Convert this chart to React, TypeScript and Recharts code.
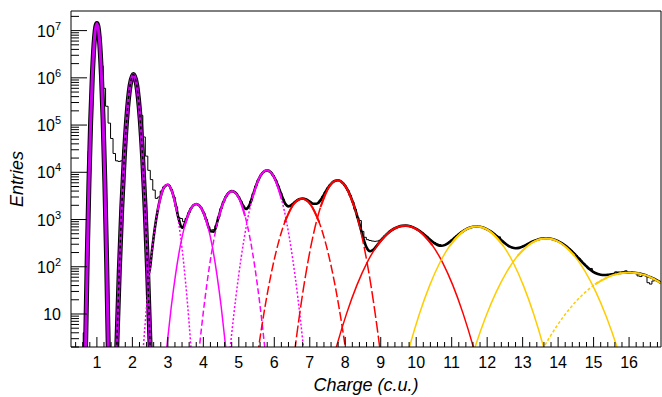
import React from 'react';
import { ComposedChart, Line, XAxis, YAxis, ReferenceLine, Label } from 'recharts';

const FONT = "'Liberation Sans', Arial, Helvetica, sans-serif";
const MAGENTA = '#ff00ff';
const PURPLE = '#cc00ee';
const RED = '#ff0000';
const GOLD = '#ffcc00';

// histogram, bins 0.07 wide, first bin centred at 0.58
const binStart = 0.58;
const binWidth = 0.07;
const histCounts = [
  0.5, 4, 230, 28000, 800000, 6800000, 13300000, 7500000, 1800000, 600000,
  250000, 110000, 52000, 25000, 17500, 17000, 17500, 30000, 145000, 500000,
  1000000, 1130000, 740000, 350000, 160000, 56000, 22000, 11000, 7000, 4200,
  2800, 3000, 4000, 4900, 5450, 5300, 4300, 3000, 1850, 1100,
  1050, 900, 1050, 1380, 1760, 2040, 2140, 2040, 1760, 1380,
  1000, 700, 600, 610, 740, 1130, 1700, 2380, 3070, 3640,
  3950, 3930, 3600, 3040, 2420, 1910, 1700, 1820, 2440, 3550,
  5100, 6900, 8690, 10100, 10900, 10850, 10000, 8540, 6790, 5090,
  3670, 2670, 2110, 1910, 1960, 2160, 2410, 2620, 2750, 2780,
  2690, 2520, 2330, 2170, 2110, 2220, 2540, 3090, 3820, 4660,
  5500, 6200, 6660, 6780, 6530, 5950, 5130, 4190, 3230, 2360,
  1640, 1100, 950, 560, 420, 375, 360, 350, 345, 350,
  365, 400, 450, 505, 560, 610, 650, 690, 720, 735,
  745, 755, 735, 695, 660, 617, 570, 520, 471, 424,
  379, 342, 325, 305, 295, 279, 287, 305, 333, 368,
  409, 455, 502, 549, 594, 634, 667, 692, 707, 725,
  704, 687, 661, 627, 585, 541, 493, 446, 430, 359,
  323, 294, 271, 256, 248, 247, 251, 262, 276, 294,
  313, 333, 352, 369, 384, 394, 400, 402, 398, 391,
  378, 361, 341, 320, 295, 270, 244, 218, 194, 172,
  151, 133, 117, 104, 92, 92, 77, 73, 70, 68,
  67, 67, 68, 69, 70.5, 78, 77, 74.4, 75, 82,
  79, 75.8, 75.2, 74.2, 64, 62, 68.6, 66, 46, 43,
  50, 53.2, 49.6, 46,
];

// total fit (from x = 2.2 on; below that peaks 1 and 2 carry it)
const fitTotal = [
  [2.2, 207000], [2.25, 64000], [2.3, 14700], [2.35, 2485], [2.4, 327], [2.45, 68],
  [2.5, 96], [2.55, 211], [2.6, 430], [2.65, 805], [2.7, 1378], [2.75, 2160],
  [2.8, 3100], [2.9, 4910], [3.0, 5460], [3.1, 4280], [3.2, 2400], [3.3, 1073],
  [3.4, 668], [3.5, 907], [3.6, 1432], [3.7, 1932], [3.8, 2138], [3.9, 1934],
  [4.0, 1437], [4.1, 903], [4.2, 564], [4.3, 555], [4.4, 937], [4.5, 1695],
  [4.6, 2683], [4.7, 3571], [4.8, 3985], [4.9, 3718], [5.0, 2950], [5.1, 2100],
  [5.2, 1667], [5.3, 2024], [5.4, 3365], [5.5, 5595], [5.6, 8200], [5.7, 10280],
  [5.8, 10990], [5.9, 10000], [6.0, 7810], [6.1, 5320], [6.2, 3340], [6.3, 2229],
  [6.4, 1901], [6.5, 2067], [6.6, 2408], [6.7, 2691], [6.8, 2784], [6.9, 2650],
  [7.0, 2384], [7.1, 2151], [7.2, 2150], [7.3, 2544], [7.4, 3377], [7.5, 4534],
  [7.6, 5715], [7.7, 6561], [7.8, 6765], [7.9, 6234], [8.0, 5132], [8.1, 3770],
  [8.2, 2480], [8.3, 1468], [8.4, 799], [8.5, 425], [8.6, 258], [8.7, 213],
  [8.8, 232], [8.9, 286], [9.0, 355], [9.1, 433], [9.2, 513], [9.3, 589],
  [9.4, 654], [9.5, 704], [9.6, 734], [9.7, 742], [9.8, 726], [9.9, 690],
  [10.0, 636], [10.1, 570], [10.2, 499], [10.3, 430], [10.4, 368], [10.5, 320],
  [10.6, 289], [10.7, 278], [10.8, 287], [10.9, 316], [11.0, 362], [11.1, 422],
  [11.2, 488], [11.3, 555], [11.4, 618], [11.5, 667], [11.6, 700], [11.7, 712],
  [11.8, 701], [11.9, 670], [12.0, 621], [12.1, 560], [12.2, 493], [12.3, 426],
  [12.4, 365], [12.5, 314], [12.6, 277], [12.7, 255], [12.8, 247], [12.9, 251],
  [13.0, 268], [13.1, 291], [13.2, 319], [13.3, 346], [13.4, 371], [13.5, 390],
  [13.6, 400], [13.7, 401], [13.8, 392], [13.9, 374], [14.0, 348], [14.1, 316],
  [14.2, 281], [14.3, 244], [14.4, 208], [14.5, 174], [14.6, 146], [14.7, 121],
  [14.8, 102], [14.9, 87], [15.0, 77], [15.1, 71], [15.2, 68], [15.3, 67],
  [15.4, 67.6], [15.5, 69.3], [15.6, 71.3], [15.7, 73.3], [15.8, 75], [15.9, 75.9],
  [16.0, 75.9], [16.1, 75.4], [16.2, 74], [16.3, 71.7], [16.4, 68.6], [16.5, 64.8],
  [16.6, 60.4], [16.7, 55.7], [16.8, 50.7], [16.9, 45.5],
];

// single photo-electron peaks
const peak1 = [
  [0.648, 0.073], [0.68, 2], [0.728, 159], [0.776, 6200], [0.824, 120000], [0.872, 1130000],
  [0.936, 7500000], [1.0, 14100000], [1.064, 7500000], [1.128, 1130000], [1.176, 120000],
  [1.224, 6200], [1.272, 159], [1.32, 2], [1.352, 0.073],
];
const peak2 = [
  [1.513, 0.12], [1.56, 2], [1.6305, 80], [1.7005, 1750], [1.7715, 21000], [1.842, 140000],
  [1.936, 690000], [2.03, 1170000], [2.124, 690000], [2.218, 140000], [2.2885, 21000],
  [2.359, 1750], [2.4295, 80], [2.5, 2], [2.547, 0.12],
];
const peak3 = [
  [2.243, 0.38], [2.31, 2], [2.4105, 18], [2.511, 113], [2.6115, 500], [2.712, 1550],
  [2.846, 4000], [2.98, 5500], [3.114, 4000], [3.248, 1550], [3.3485, 500], [3.449, 113],
  [3.5495, 18], [3.65, 2], [3.717, 0.38],
];
const peak4 = [
  [2.887, 0.46], [2.97, 2], [3.0945, 13.9], [3.219, 70], [3.3435, 259], [3.468, 700],
  [3.634, 1620], [3.8, 2140], [3.966, 1620], [4.132, 700], [4.2565, 259], [4.381, 70],
  [4.5055, 13.9], [4.63, 2], [4.713, 0.46],
];
const peak5 = [
  [3.798, 0.41], [3.89, 2], [4.028, 16.4], [4.166, 96], [4.304, 400], [4.442, 1180],
  [4.626, 2940], [4.81, 3980], [4.994, 2940], [5.178, 1180], [5.316, 400], [5.454, 96],
  [5.592, 16.4], [5.73, 2], [5.822, 0.41],
];
const peak6 = [
  [4.657, 0.33], [4.76, 2], [4.9145, 21.8], [5.069, 161], [5.2235, 811], [5.378, 2770],
  [5.584, 7800], [5.79, 11000], [5.996, 7800], [6.202, 2770], [6.3565, 811], [6.511, 161],
  [6.6655, 21.8], [6.82, 2], [6.923, 0.33],
];
const peak7 = [
  [5.438, 0.44], [5.56, 2], [5.743, 14.9], [5.926, 80], [6.109, 309], [6.292, 867],
  [6.536, 2060], [6.78, 2750], [7.024, 2060], [7.268, 867], [7.451, 309], [7.634, 80],
  [7.817, 14.9], [8.0, 2], [8.122, 0.44],
];
const peak8 = [
  [6.471, 0.36], [6.59, 2], [6.7685, 19], [6.947, 126], [7.1255, 578], [7.304, 1840],
  [7.542, 4890], [7.78, 6760], [8.018, 4890], [8.256, 1840], [8.4345, 578], [8.613, 126],
  [8.7915, 19], [8.97, 2], [9.089, 0.36],
];
const peak9 = [
  [7.557, 0.58], [7.75, 2], [8.0395, 10.3], [8.329, 40.8], [8.6185, 124], [8.908, 288],
  [9.294, 585], [9.68, 741], [10.066, 585], [10.452, 288], [10.7415, 124], [11.031, 40.8],
  [11.3205, 10.3], [11.61, 2], [11.803, 0.58],
];
const peak10 = [
  [9.621, 0.58], [9.81, 2], [10.0935, 10.2], [10.377, 39.9], [10.6605, 120], [10.944, 277],
  [11.322, 560], [11.7, 708], [12.078, 560], [12.456, 277], [12.7395, 120], [13.023, 39.9],
  [13.3065, 10.2], [13.59, 2], [13.779, 0.58],
];
const peak11 = [
  [11.46, 0.66], [11.66, 2], [11.96, 8.7], [12.26, 29.7], [12.56, 80], [12.86, 171],
  [13.26, 322], [13.66, 398], [14.06, 322], [14.46, 171], [14.76, 80], [15.06, 29.7],
  [15.36, 8.7], [15.66, 2], [15.86, 0.66],
];
const peak12 = [
  [13.36, 0.93], [13.6, 2], [13.96, 5.5], [14.32, 12.8], [14.68, 25.2], [15.04, 42.4],
  [15.52, 65.6], [16.0, 75.9], [16.48, 65.6], [16.96, 42.4],
];

const xMin = 0.27;
const xMax = 16.9;
const yMin = 2;
const yMax = 2.6e7;

const majorCharge = [1, 2, 3, 4, 5, 6, 7, 8, 9, 10, 11, 12, 13, 14, 15, 16];
const chargeTicks: number[] = [];
for (let k = 2; k <= 84; k++) chargeTicks.push(Math.round(k * 2) / 10);

const majorEntries = [10, 100, 1e3, 1e4, 1e5, 1e6, 1e7];
const entriesTicks: number[] = [];
for (let e = 0; e <= 7; e++) {
  for (let m = 1; m <= 9; m++) {
    const v = m * Math.pow(10, e);
    if (v >= yMin && v <= yMax) entriesTicks.push(v);
  }
}

const pts = (arr: number[][]) => arr.map(([x, y]) => ({ x, y }));

const histData = histCounts.map((y, i) => ({ x: +(binStart + i * binWidth).toFixed(3), y }));

const components = [
  { key: 'p3', data: peak3, color: MAGENTA, dash: '2 2', core: [5, 10] },
  { key: 'p4', data: peak4, color: MAGENTA, dash: undefined, core: [5, 10] },
  { key: 'p5', data: peak5, color: MAGENTA, dash: '6 3', core: [5, 10] },
  { key: 'p6', data: peak6, color: MAGENTA, dash: '2 2', core: [5, 10] },
  { key: 'p7', data: peak7, color: RED, dash: '9 3', core: [5, 10] },
  { key: 'p8', data: peak8, color: RED, dash: '12 3', core: [5, 10] },
  { key: 'p9', data: peak9, color: RED, dash: undefined, core: [5, 10] },
  { key: 'p10', data: peak10, color: GOLD, dash: undefined, core: [5, 10] },
  { key: 'p11', data: peak11, color: GOLD, dash: undefined, core: [5, 10] },
  { key: 'p12', data: peak12, color: GOLD, dash: '3 2', core: [5, 10] },
];

const ChargeTick = (props: any) => {
  const { x, y, payload } = props;
  const v = payload.value as number;
  const major = majorCharge.includes(v);
  return (
    <g>
      <line x1={x} x2={x} y1={y} y2={y - (major ? 10 : 5)} stroke="#000" strokeWidth={1} />
      {major && (
        <text x={x} y={y + 21} textAnchor="middle" fontSize={16} fontFamily={FONT} fill="#000">
          {v}
        </text>
      )}
    </g>
  );
};

const EntriesTick = (props: any) => {
  const { x, y, payload } = props;
  const v = payload.value as number;
  const major = majorEntries.includes(v);
  const exp = Math.round(Math.log10(v));
  return (
    <g>
      <line x1={x} x2={x + (major ? 16 : 8)} y1={y} y2={y} stroke="#000" strokeWidth={1} />
      {major && (
        <text x={x - 10} y={y + 6} textAnchor="end" fontSize={16} fontFamily={FONT} fill="#000">
          10
          {exp > 1 && (
            <tspan dy={-7} fontSize={11}>
              {exp}
            </tspan>
          )}
        </text>
      )}
    </g>
  );
};

const ChargeTitle = (props: any) => {
  const vb = props.viewBox || { x: 71, y: 347, width: 590, height: 50 };
  return (
    <text x={vb.x + vb.width / 2} y={vb.y + 44} textAnchor="middle" fontSize={18}
      fontStyle="italic" fontFamily={FONT} fill="#000">
      Charge (c.u.)
    </text>
  );
};

const EntriesTitle = (props: any) => {
  const vb = props.viewBox || { x: 0, y: 11, width: 71, height: 336 };
  const cx = vb.x + 23;
  const cy = vb.y + vb.height / 2;
  return (
    <text x={cx} y={cy} textAnchor="middle" fontSize={18} fontStyle="italic" fontFamily={FONT}
      fill="#000" transform={`rotate(-90, ${cx}, ${cy})`}>
      Entries
    </text>
  );
};

export default function App() {
  return (
    <div style={{ position: 'absolute', left: 0, top: 0, width: 662, height: 397, background: '#fff' }}>
      <ComposedChart width={662} height={397} margin={{ top: 11, right: 1, bottom: 0, left: 0 }}>
        <XAxis
          type="number"
          dataKey="x"
          domain={[xMin, xMax]}
          allowDataOverflow
          ticks={chargeTicks}
          interval={0}
          tick={<ChargeTick />}
          tickLine={false}
          tickSize={0}
          tickMargin={0}
          height={50}
          axisLine={{ stroke: '#000' }}
        >
          <Label content={(p: any) => <ChargeTitle {...p} />} />
        </XAxis>
        <YAxis
          type="number"
          dataKey="y"
          scale="log"
          domain={[yMin, yMax]}
          allowDataOverflow
          ticks={entriesTicks}
          interval={0}
          tick={<EntriesTick />}
          tickLine={false}
          tickSize={0}
          tickMargin={0}
          width={71}
          axisLine={{ stroke: '#000' }}
        >
          <Label content={(p: any) => <EntriesTitle {...p} />} />
        </YAxis>

        <Line data={histData} dataKey="y" type="step" stroke="#000" strokeWidth={1}
          dot={false} isAnimationActive={false} name="hist" />

        <Line data={pts(peak1)} dataKey="y" type="monotone" stroke="#000" strokeWidth={5}
          dot={false} isAnimationActive={false} name="p1-under" />
        <Line data={pts(peak2)} dataKey="y" type="monotone" stroke="#000" strokeWidth={5}
          dot={false} isAnimationActive={false} name="p2-under" />
        <Line data={pts(fitTotal)} dataKey="y" type="monotone" stroke="#000" strokeWidth={2.6}
          dot={false} isAnimationActive={false} name="total" />

        {components.map((c) => (
          <Line key={c.key} data={pts(c.data)} dataKey="y" type="monotone" stroke={c.color}
            strokeWidth={1.5} strokeDasharray={c.dash} dot={false} isAnimationActive={false}
            name={c.key} />
        ))}
        {components.map((c) => (
          <Line key={c.key + '-core'} data={pts(c.data.slice(c.core[0], c.core[1]))} dataKey="y"
            type="monotone" stroke={c.color} strokeWidth={2} dot={false}
            isAnimationActive={false} name={c.key + '-core'} />
        ))}

        <Line data={pts(peak1)} dataKey="y" type="monotone" stroke={PURPLE} strokeWidth={3}
          dot={false} isAnimationActive={false} name="p1" />
        <Line data={pts(peak2)} dataKey="y" type="monotone" stroke={PURPLE} strokeWidth={3}
          dot={false} isAnimationActive={false} name="p2" />
        <Line data={pts(peak2)} dataKey="y" type="monotone" stroke="#000" strokeWidth={1.5}
          strokeDasharray="3 3" dot={false} isAnimationActive={false} name="p2-dash" />

        <ReferenceLine y={yMax} stroke="#000" ifOverflow="visible" />
        <ReferenceLine x={xMax} stroke="#000" ifOverflow="visible" />
      </ComposedChart>
    </div>
  );
}
